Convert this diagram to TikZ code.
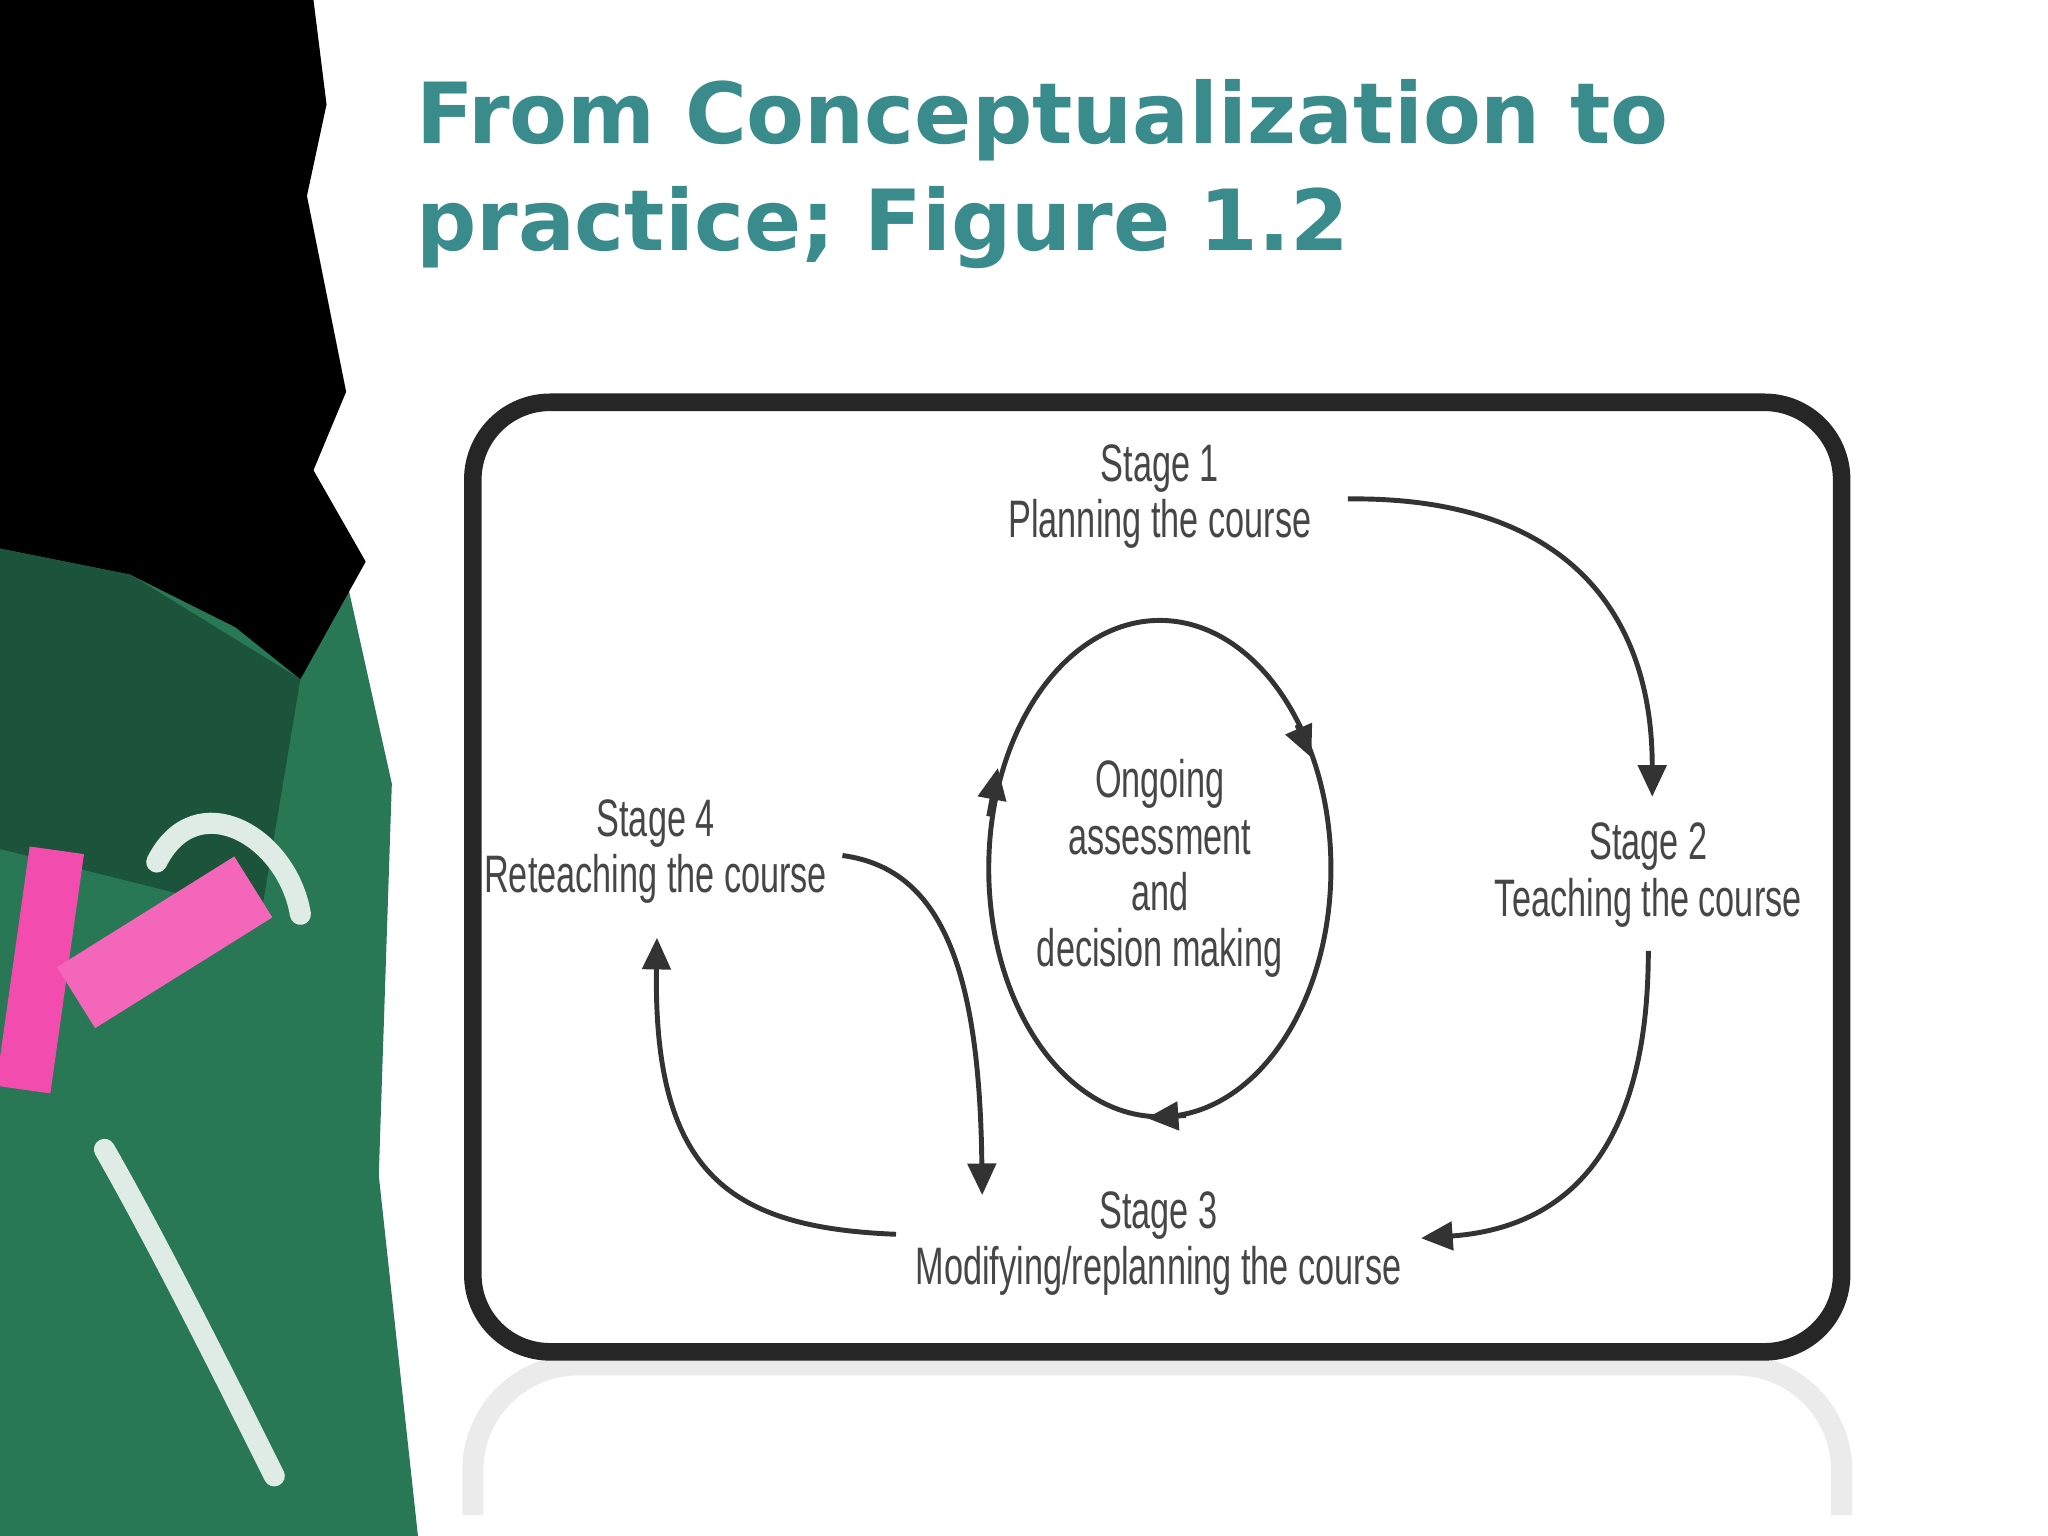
\documentclass[tikz,border=0pt]{standalone}
\usepackage{fontspec}
\setmainfont{Liberation Sans}
\newfontfamily\titlefont{DejaVu Sans}
\usetikzlibrary{arrows.meta}
\definecolor{teal1}{RGB}{58,140,140}
\definecolor{board}{RGB}{40,120,85}
\definecolor{lbl}{RGB}{70,70,70}
\newcommand{\sq}[1]{\scalebox{0.65}[1]{#1}}
\begin{document}
\begin{tikzpicture}[x=0.01306cm,y=-0.01306cm,
  lab/.style={text=lbl,font=\fontsize{15}{16}\selectfont,align=center,inner sep=0pt},
  arr/.style={draw=black!80,line width=1.4pt,-{Triangle[length=9pt,width=8pt]}}]
\useasboundingbox (0,0) rectangle (1568,1176);
\fill[white] (0,0) rectangle (1568,1176);
% left chalkboard
\fill[board] (0,380) -- (260,420) -- (300,600) -- (290,900) -- (320,1176) -- (0,1176) -- cycle;
\fill[black] (0,0) -- (240,0) -- (250,80) -- (235,150) -- (265,300) -- (240,360) -- (280,430) -- (230,520) -- (180,480) -- (100,440) -- (0,420) -- cycle;
\fill[board!70!black] (0,420) -- (100,440) -- (230,520) -- (200,700) -- (0,650) -- cycle;
\draw[white!85!board,line width=6pt,line cap=round] (120,660) .. controls (150,600) and (220,640) .. (230,700);
\draw[white!85!board,line width=6pt,line cap=round] (80,880) .. controls (120,950) and (170,1050) .. (210,1130);
\fill[magenta!70!white,rotate around={-8:(30,740)}] (10,650) rectangle (52,835);
\fill[magenta!60!white,rotate around={32:(120,740)}] (55,700) rectangle (215,755);
% title
\node[anchor=base west,inner sep=0pt,text=teal1,font=\titlefont\bfseries\fontsize{24}{30}\selectfont] (t1) at (318,110) {From Conceptualization to};
\node[anchor=base west,inner sep=0pt,text=teal1,font=\titlefont\bfseries\fontsize{24}{30}\selectfont] (t2) at (318,192) {practice; Figure 1.2};
% reflection
\draw[black!8,line width=6pt,rounded corners=30pt] (362,1160) -- (362,1045) -- (1410,1045) -- (1410,1160);
% box
\draw[black!85,line width=5pt,rounded corners=22pt,fill=white] (362,308) rectangle (1410,1035);
% labels
\node[lab] (s1) at (888,380) {\sq{Stage 1}\\\sq{Planning the course}};
\node[lab] (s2) at (1262,670) {\sq{Stage 2}\\\sq{Teaching the course}};
\node[lab] (s3) at (887,952) {\sq{Stage 3}\\\sq{Modifying/replanning the course}};
\node[lab] (s4) at (502,652) {\sq{Stage 4}\\\sq{Reteaching the course}};
\node[lab] (c) at (888,665) {\sq{Ongoing}\\\sq{assessment}\\\sq{and}\\\sq{decision making}};
% outer arrows
\coordinate (a1) at (1032,382); \coordinate (a2) at (1265,610);
\draw[arr] (a1) .. controls (1200,380) and (1265,470) .. (a2);
\coordinate (b1) at (1262,728); \coordinate (b2) at (1088,948);
\draw[arr] (b1) .. controls (1262,880) and (1200,940) .. (b2);
\coordinate (d1) at (686,945); \coordinate (d2) at (503,718);
\draw[arr] (d1) .. controls (560,940) and (500,900) .. (d2);
\coordinate (e1) at (645,655); \coordinate (e2) at (752,915);
\draw[arr] (e1) .. controls (720,665) and (750,740) .. (e2);
% circle
\draw[black!80,line width=1.4pt] (888,665) ellipse [x radius=131,y radius=190];
\coordinate (p1) at (993,555); \coordinate (p2) at (1004,580);
\draw[arr] (p1) -- (p2);
\coordinate (p3) at (908,854); \coordinate (p4) at (878,856);
\draw[arr] (p3) -- (p4);
\coordinate (p5) at (757,625); \coordinate (p6) at (764,588);
\draw[arr] (p5) -- (p6);
\end{tikzpicture}
\end{document}
